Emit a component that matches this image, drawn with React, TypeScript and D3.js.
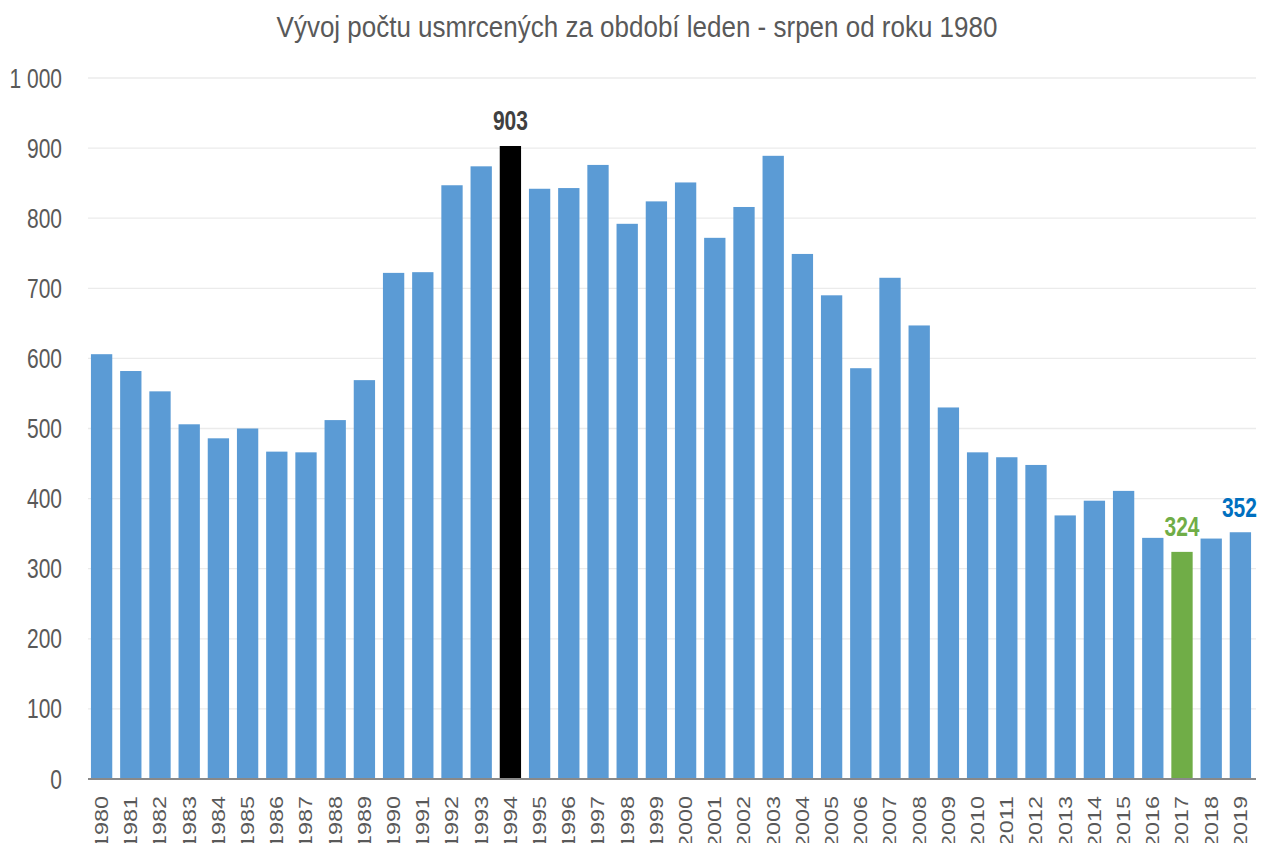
import React, { useEffect } from "react";
import * as d3 from "d3";

const years = [
  "1980", "1981", "1982", "1983", "1984", "1985", "1986", "1987", "1988", "1989",
  "1990", "1991", "1992", "1993", "1994", "1995", "1996", "1997", "1998", "1999",
  "2000", "2001", "2002", "2003", "2004", "2005", "2006", "2007", "2008", "2009",
  "2010", "2011", "2012", "2013", "2014", "2015", "2016", "2017", "2018", "2019",
];

const killed = [
  606, 582, 553, 506, 486, 500, 467, 466, 512, 569,
  722, 723, 847, 874, 903, 842, 843, 876, 792, 824,
  851, 772, 816, 889, 749, 690, 586, 715, 647, 530,
  466, 459, 448, 376, 397, 411, 344, 324, 343, 352,
];

const yTicks = [0, 100, 200, 300, 400, 500, 600, 700, 800, 900, 1000];

// highlighted bars: year -> [bar colour, label colour]
const highlights: Record<string, [string, string]> = {
  "1994": ["#000000", "#404040"],
  "2017": ["#70ad47", "#70ad47"],
  "2019": ["#5b9bd5", "#0070c0"],
};

const title = "Vývoj počtu usmrcených za období leden - srpen od roku 1980";

// the picture is stretched vertically, so draw in squashed units
const S = 1.3;
const W = 1264;
const H = 843 / S;
const font = "'Liberation Sans', Arial, sans-serif";

const fmt = d3.formatLocale({
  decimal: ",",
  thousands: " ",
  grouping: [3],
  currency: ["", " Kč"],
}).format(",d");

export default function App() {
  useEffect(() => {
    document.body.style.margin = "0";
  }, []);

  const x = d3
    .scaleBand()
    .domain(years)
    .range([87, 1255])
    .paddingInner(0.27)
    .paddingOuter(0.135);

  const y = d3.scaleLinear().domain([0, 1000]).range([779 / S, 78 / S]);

  return (
    <svg
      width={W}
      height={843}
      viewBox={`0 0 ${W} ${H}`}
      preserveAspectRatio="none"
      style={{ display: "block", background: "#fff" }}
    >
      {/* title is less stretched than the rest */}
      <text
        transform={`translate(637,${37.3 / S}) scale(1,0.88)`}
        textAnchor="middle"
        fontFamily={font}
        fontSize={26}
        fill="#595959"
      >
        {title}
      </text>

      {yTicks.map((t) => (
        <g key={t}>
          {t > 0 && (
            <line x1={88} x2={1256} y1={y(t)} y2={y(t)} stroke="#ebebeb" strokeWidth={1} />
          )}
          <text
            x={62}
            y={y(t)}
            dy="0.35em"
            textAnchor="end"
            fontFamily={font}
            fontSize={21}
            fill="#595959"
          >
            {fmt(t)}
          </text>
        </g>
      ))}

      {years.map((yr, i) => {
        const h = highlights[yr];
        return (
          <rect
            key={yr}
            x={x(yr) as number}
            y={y(killed[i])}
            width={x.bandwidth()}
            height={y(0) - y(killed[i])}
            fill={h ? h[0] : "#5b9bd5"}
          />
        );
      })}

      {years.map((yr, i) =>
        highlights[yr] ? (
          <text
            key={"l" + yr}
            x={(x(yr) as number) + x.bandwidth() / 2 - (yr === "2019" ? 1 : 0)}
            y={y(killed[i]) - 12}
            textAnchor="middle"
            fontFamily={font}
            fontWeight="bold"
            fontSize={21}
            fill={highlights[yr][1]}
          >
            {killed[i]}
          </text>
        ) : null
      )}

      <line x1={88} x2={1256} y1={y(0)} y2={y(0)} stroke="#898989" strokeWidth={1.4} />

      {years.map((yr) => {
        const cx = (x(yr) as number) + x.bandwidth() / 2;
        const ty = 796 / S;
        return (
          <text
            key={"t" + yr}
            transform={`translate(${cx},${ty}) rotate(-90)`}
            dy="0.35em"
            textAnchor="end"
            fontFamily={font}
            fontSize={18}
            fill="#595959"
          >
            {yr}
          </text>
        );
      })}
    </svg>
  );
}
